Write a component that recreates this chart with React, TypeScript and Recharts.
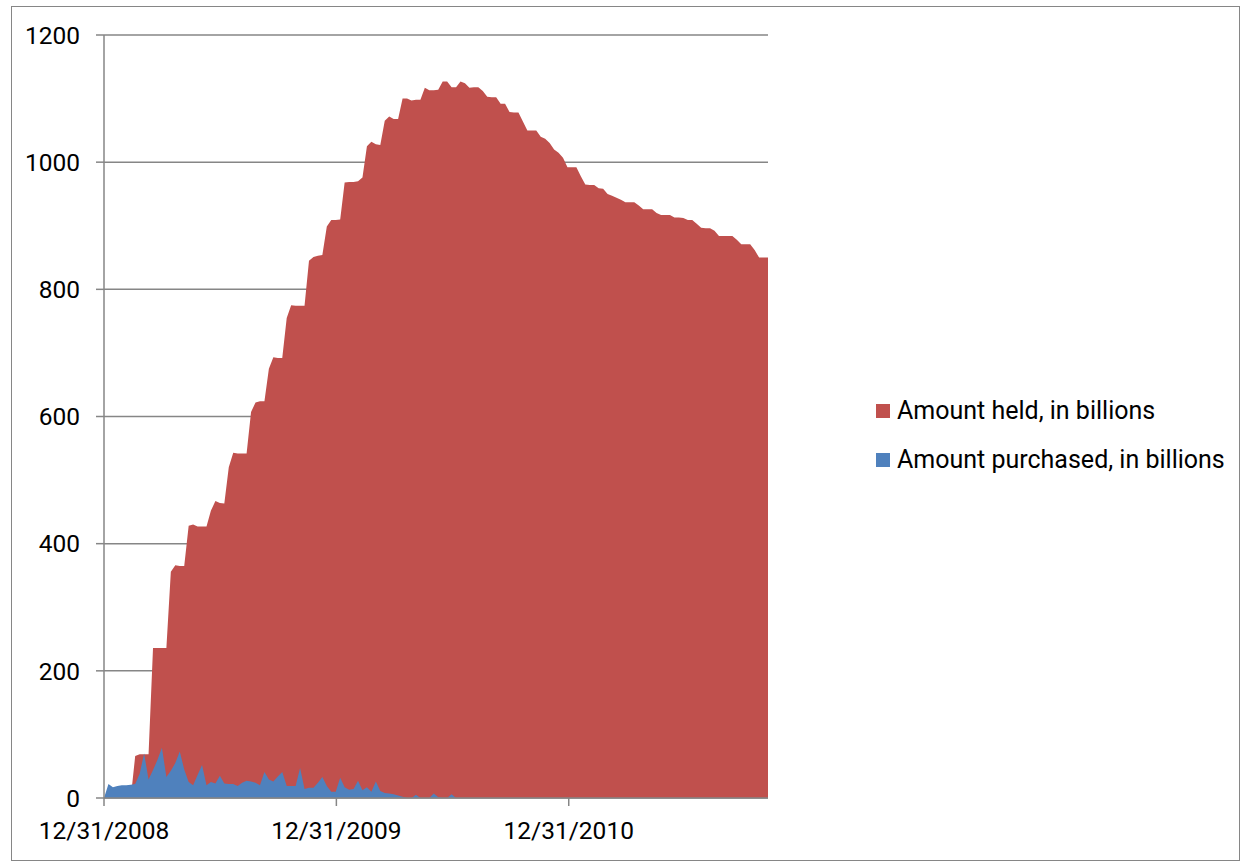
import React from 'react';
import { AreaChart, Area, XAxis, YAxis, CartesianGrid, Legend } from 'recharts';

// weekly observations, first one on 12/31/2008
const startDate = '2008-12-31';

const heldValues = [
  0, 0, 0, 0, 0, 0, 0,
  66, 69, 69, 69,
  236, 236, 236, 236,
  356, 366, 365, 365,
  428, 430, 427, 427, 427,
  452, 467, 464, 463,
  520, 543, 542, 542, 542,
  607, 622, 624, 624,
  675, 693, 692, 692,
  755, 775, 774, 774, 774,
  845, 851, 853, 854,
  899, 909, 909, 910,
  968, 969, 969, 970, 976,
  1025, 1032, 1028, 1027,
  1065, 1072, 1068, 1068,
  1100, 1100, 1097, 1098, 1098,
  1117, 1113, 1113, 1114,
  1127, 1127, 1118, 1118,
  1127, 1124, 1117, 1118, 1118,
  1112, 1103, 1102, 1102,
  1092, 1092,
  1079, 1078, 1078,
  1064, 1050, 1050, 1050,
  1040, 1037, 1030,
  1020, 1015,
  1007, 992,
  992, 992,
  978, 965, 964, 964,
  959, 958,
  950, 947, 944, 941,
  937, 937, 937,
  932, 926, 926, 926,
  920, 917, 917, 917,
  913, 913, 912, 909, 909,
  903, 897, 896, 896,
  892, 884, 884, 884, 884,
  878, 871, 871, 871,
  862, 850, 850, 850,
];

const purchasedValues = [
  0, 22, 17, 19, 20, 20, 21, 22, 38, 70,
  29, 44, 60, 79, 33, 43, 55, 73, 45, 25,
  20, 36, 52, 20, 25, 23, 35, 23, 22, 22,
  19, 24, 27, 26, 24, 20, 41, 29, 26, 34,
  41, 19, 19, 19, 47, 14, 16, 16, 24, 33,
  19, 10, 10, 32, 17, 13, 14, 27, 12, 17,
  10, 26, 11, 8, 7, 6, 4, 2, 0, 0,
  5, 0, 0, 0, 7, 1, 0, 0, 6, 0,
  0, 0, 0, 0, 0, 0, 0, 0, 0, 0,
  0, 0, 0, 0, 0, 0, 0, 0, 0, 0,
  0, 0, 0, 0, 0, 0, 0, 0, 0, 0,
  0, 0, 0, 0, 0, 0, 0, 0, 0, 0,
  0, 0, 0, 0, 0, 0, 0, 0, 0, 0,
  0, 0, 0, 0, 0, 0, 0, 0, 0, 0,
  0, 0, 0, 0, 0, 0, 0, 0, 0, 0,
];

const tickLabels = ['12/31/2008', '12/31/2009', '12/31/2010'];
const yTicks = [0, 200, 400, 600, 800, 1000, 1200];

const DAY = 24 * 3600 * 1000;
const t0 = Date.parse(startDate + 'T00:00:00Z');
const toDay = (label: string) => {
  const [m, d, y] = label.split('/').map(Number);
  return Math.round((Date.UTC(y, m - 1, d) - t0) / DAY);
};
const xTicks = tickLabels.map(toDay);

const data = heldValues.map((held, i) => ({
  day: i * 7,
  held,
  purchased: purchasedValues[i],
}));

const RED = '#C0504D';
const BLUE = '#4F81BD';
const GRID = '#868686';
const FONT = 'Roboto, "Open Sans", sans-serif';

const series = [
  { name: 'Amount held, in billions', color: RED },
  { name: 'Amount purchased, in billions', color: BLUE },
];

function LegendBox() {
  return (
    <div style={{ fontFamily: FONT, fontSize: 25, color: '#000' }}>
      {series.map((s) => (
        <div key={s.name} style={{ display: 'flex', alignItems: 'center', height: 49 }}>
          <span style={{ width: 14, height: 14, background: s.color, display: 'inline-block', marginRight: 7 }} />
          <span>{s.name}</span>
        </div>
      ))}
    </div>
  );
}

export default function App() {
  return (
    <div style={{ position: 'absolute', left: 0, top: 0, width: 1249, height: 864, background: '#fff' }}>
      <div
        style={{
          position: 'absolute',
          left: 11,
          top: 6,
          width: 1227,
          height: 853,
          border: '1px solid #868686',
        }}
      />
      <div style={{ position: 'absolute', left: 0, top: 0 }}>
        <AreaChart width={1249} height={864} data={data} margin={{ top: 35, right: 481, bottom: 0, left: 0 }}>
          <CartesianGrid vertical={false} stroke={GRID} strokeWidth={1.5} />
          <XAxis
            dataKey="day"
            type="number"
            domain={[0, 1043]}
            ticks={xTicks}
            tickFormatter={(v: number) => tickLabels[xTicks.indexOf(v)] ?? ''}
            height={66}
            tickSize={8}
            tickMargin={16}
            stroke={GRID}
            strokeWidth={1.5}
            tick={{ fill: '#000', fontSize: 24.5, fontFamily: FONT }}
            interval={0}
          />
          <YAxis
            domain={[0, 1200]}
            ticks={yTicks}
            width={104}
            tickSize={8}
            tickMargin={16}
            stroke={GRID}
            strokeWidth={1.5}
            tick={{ fill: '#000', fontSize: 24.5, fontFamily: FONT }}
            interval={0}
          />
          <Area
            type="linear"
            dataKey="held"
            name="Amount held, in billions"
            stroke="none"
            fill={RED}
            fillOpacity={1}
            isAnimationActive={false}
          />
          <Area
            type="linear"
            dataKey="purchased"
            name="Amount purchased, in billions"
            stroke="none"
            fill={BLUE}
            fillOpacity={1}
            isAnimationActive={false}
          />
          <Legend
            layout="horizontal"
            verticalAlign="middle"
            align="center"
            content={() => <LegendBox />}
            wrapperStyle={{ left: 876, top: 386, width: 370, height: 98 }}
          />
        </AreaChart>
      </div>
    </div>
  );
}
